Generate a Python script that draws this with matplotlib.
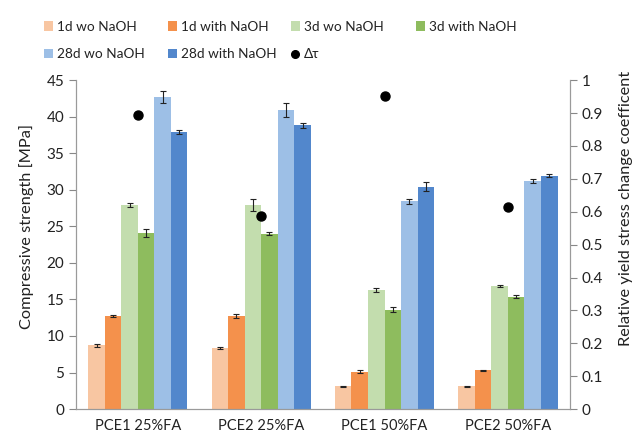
import numpy as np
import matplotlib
matplotlib.use("Agg")
import matplotlib.pyplot as plt
from matplotlib.patches import Patch
from matplotlib.lines import Line2D

plt.rcParams["font.family"] = ["Lato", "DejaVu Sans"]

# Data
groups = ["PCE1 25%FA", "PCE2 25%FA", "PCE1 50%FA", "PCE2 50%FA"]
series = ["1d wo NaOH", "1d with NaOH", "3d wo NaOH",
          "3d with NaOH", "28d wo NaOH", "28d with NaOH"]
d1_wo = [8.7, 8.4, 3.1, 3.1]
d1_with = [12.7, 12.7, 5.1, 5.3]
d3_wo = [27.9, 27.9, 16.3, 16.8]
d3_with = [24.1, 24.0, 13.6, 15.4]
d28_wo = [42.7, 40.9, 28.4, 31.2]
d28_with = [37.9, 38.8, 30.4, 31.9]
err_d1_wo = [0.15, 0.15, 0.1, 0.1]
err_d1_with = [0.15, 0.3, 0.2, 0.1]
err_d3_wo = [0.25, 0.8, 0.25, 0.15]
err_d3_with = [0.5, 0.2, 0.3, 0.15]
err_d28_wo = [0.8, 1.0, 0.3, 0.3]
err_d28_with = [0.3, 0.4, 0.6, 0.2]
delta_tau = [0.894, 0.587, 0.952, 0.615]

values = [d1_wo, d1_with, d3_wo, d3_with, d28_wo, d28_with]
errors = [err_d1_wo, err_d1_with, err_d3_wo, err_d3_with, err_d28_wo, err_d28_with]
colors = ["#F8C6A2", "#F4914C", "#C3DDAE", "#8EBC5E", "#9DBFE6", "#5287CC"]

fig = plt.figure(figsize=(6.4, 4.38), dpi=100)
ax = fig.add_axes([0.119, 0.066, 0.771, 0.751])
ax2 = ax.twinx()

x = np.arange(len(groups))
width = 0.134
for i, (vals, errs, c) in enumerate(zip(values, errors, colors)):
    pos = x + (i - 2.5) * width
    ax.bar(pos, vals, width, color=c, zorder=2)
    ax.errorbar(pos, vals, yerr=errs, fmt="none", ecolor="#222222",
                elinewidth=0.8, capsize=2, capthick=0.8, zorder=3)

ax2.plot(x, delta_tau, "o", color="black", markersize=6.5, zorder=4)

ax.set_xlim(-0.5, 3.5)
ax.set_ylim(0, 45)
ax.set_yticks(np.arange(0, 46, 5))
ax2.set_ylim(0, 1)
ax2.set_yticks(np.round(np.arange(0, 1.01, 0.1), 1))
ax2.set_yticklabels(["0"] + [f"{v:.1f}" for v in np.arange(0.1, 0.95, 0.1)] + ["1"])

ax.set_xticks(x)
ax.set_xticklabels(groups, fontsize=10.5, color="#222222")
ax.tick_params(axis="x", length=0, pad=7)
ax.tick_params(axis="y", labelsize=11, colors="#888888", labelcolor="#222222",
               length=5, width=0.8)
ax2.tick_params(axis="y", labelsize=11, colors="#888888", labelcolor="#222222",
                length=5, width=0.8)

for a in (ax, ax2):
    a.spines["top"].set_visible(False)
    for s in ("left", "right", "bottom"):
        a.spines[s].set_color("#9a9a9a")
        a.spines[s].set_linewidth(0.8)

ax.set_ylabel("Compressive strength [MPa]", fontsize=11.8, color="#222222")
ax.yaxis.set_label_coords(-0.085, 0.555)
ax2.set_ylabel("Relative yield stress change coefficent", fontsize=11.8,
               color="#222222")
ax2.yaxis.set_label_coords(1.1, 0.61)

# legend: four columns placed at fixed spots like the original
handles = [Patch(facecolor=c, edgecolor="none") for c in colors]
handles.append(Line2D([], [], marker="o", color="black", linestyle="none", markersize=5.5))
labels = series + ["\u0394\u03c4"]
columns = [[0, 4], [1, 5], [2, 6], [3]]
col_x = [0.058, 0.252, 0.444, 0.639]
for cx, idx in zip(col_x, columns):
    fig.legend([handles[i] for i in idx], [labels[i] for i in idx],
               loc="upper left", bbox_to_anchor=(cx, 0.968), frameon=False,
               borderpad=0, fontsize=9.8, handlelength=0.65, handleheight=0.65,
               handletextpad=0.3, labelspacing=1.15, labelcolor="#222222")

fig.savefig("out.png", dpi=100)
